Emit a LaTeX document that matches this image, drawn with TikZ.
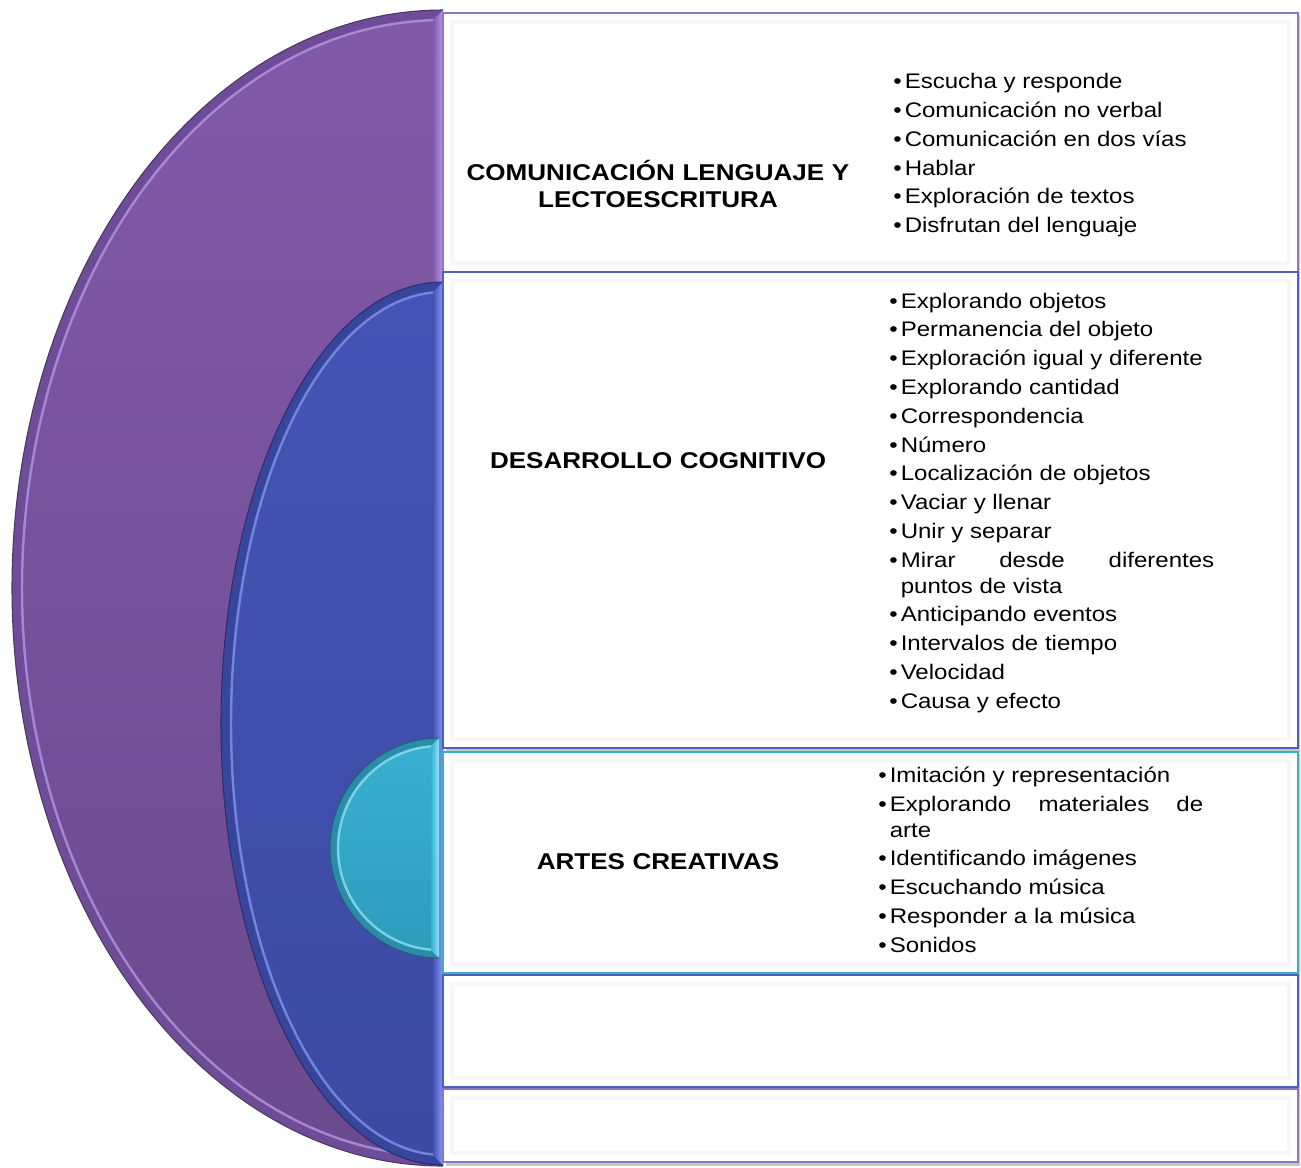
\documentclass[tikz,border=0pt]{standalone}
\usepackage{fontspec}
\setmainfont{Liberation Sans}
\newfontfamily\panelfont[FakeStretch=1.14]{Liberation Sans}
\usepackage{xcolor}
\usetikzlibrary{positioning}

\definecolor{purpdark}{HTML}{6E4C98}
\definecolor{purptop}{HTML}{8259AA}
\definecolor{purpbot}{HTML}{6A4A8E}
\definecolor{purplite}{HTML}{B89AEA}
\definecolor{purpline}{HTML}{8E74C8}
\definecolor{bludark}{HTML}{37459C}
\definecolor{blutop}{HTML}{4454B4}
\definecolor{blubot}{HTML}{3C4AA3}
\definecolor{blulite}{HTML}{8898F0}
\definecolor{bluline}{HTML}{4F5FBE}
\definecolor{cyadark}{HTML}{2A8CA8}
\definecolor{cyatop}{HTML}{38B0D0}
\definecolor{cyabot}{HTML}{2E9DBC}
\definecolor{cyalite}{HTML}{90E6F6}
\definecolor{cyaline}{HTML}{3BAFC9}

\newcommand\itm[1]{\par\hangindent=6.5pt\hangafter=1\noindent\makebox[6.5pt][l]{\textbullet}#1}

\begin{document}
\begin{tikzpicture}[
        x=0.02cm, y=0.02cm,
        title/.style={align=center, text width=8.4cm, inner sep=0pt, font=\panelfont\bfseries\fontsize{13}{15.9}\selectfont},
        items/.style={align=justify, text width=6.5cm, anchor=west, inner sep=0pt,
            font=\panelfont\fontsize{12}{14.7}\selectfont,
            execute at begin node=\setlength{\parskip}{1.7pt}},
        rim/.style={line width=0.6pt, draw=#1},
        glow/.style={draw=#1, line width=1.4pt, draw opacity=0.75}
    ]
        \useasboundingbox (0,0) rectangle (1301,-1167);

        % Domes
        \fill[purpdark] (443,-10) arc[start angle=90, end angle=270, x radius=431, y radius=578] -- cycle;
        \shade[top color=purptop, bottom color=purpbot] (443,-20) arc[start angle=90, end angle=270, x radius=421, y radius=568] -- cycle;
        \draw[glow=purplite] (443,-20) arc[start angle=90, end angle=270, x radius=421, y radius=568];
        \shade[left color=purptop, right color=purplite] (433,-20) -- (443,-10) -- (443,-1166) -- (433,-1156) -- cycle;
        \draw[rim=purpdark!70!black] (443,-10) arc[start angle=90, end angle=270, x radius=431, y radius=578];

        \fill[bludark] (443,-282) arc[start angle=90, end angle=270, x radius=222, y radius=441.5] -- cycle;
        \shade[top color=blutop, bottom color=blubot] (443,-292) arc[start angle=90, end angle=270, x radius=212, y radius=431.5] -- cycle;
        \draw[glow=blulite] (443,-292) arc[start angle=90, end angle=270, x radius=212, y radius=431.5];
        \shade[left color=blutop, right color=blulite] (433,-292) -- (443,-282) -- (443,-1165) -- (433,-1155) -- cycle;
        \draw[rim=bludark!70!black] (443,-282) arc[start angle=90, end angle=270, x radius=222, y radius=441.5];

        \fill[cyadark] (439,-738) arc[start angle=90, end angle=270, x radius=109, y radius=110] -- cycle;
        \shade[top color=cyatop, bottom color=cyabot] (439,-746) arc[start angle=90, end angle=270, x radius=101, y radius=102] -- cycle;
        \draw[glow=cyalite] (439,-746) arc[start angle=90, end angle=270, x radius=101, y radius=102];
        \shade[left color=cyatop, right color=cyalite] (431,-746) -- (439,-738) -- (439,-958) -- (431,-950) -- cycle;
        \draw[rim=cyadark!70!black] (439,-738) arc[start angle=90, end angle=270, x radius=109, y radius=110];

        % Panels
        \foreach \ya/\yb/\col in {13/272/purpline, 272/748/bluline, 752/973/cyaline, 975/1087/bluline, 1089/1162/purpline}{
            \fill[black!22] (446,-\ya-2) rectangle (1300,-\yb-4);
            \fill[white] (443,-\ya) rectangle (1298,-\yb);
            \draw[black!3, line width=2.5pt] (452,-\ya-9) rectangle (1289,-\yb+9);
            \draw[\col, line width=1.1pt] (443,-\ya) rectangle (1298,-\yb);
        }

        % Texts
        \node[title] (comm) at (658,-184) {COMUNICACIÓN LENGUAJE Y\\LECTOESCRITURA};
        \node[items] (commlist) at (893,-148.5) {%
            \itm{Escucha y responde}
            \itm{Comunicación no verbal}
            \itm{Comunicación en dos vías}
            \itm{Hablar}
            \itm{Exploración de textos}
            \itm{Disfrutan del lenguaje}};

        \node[title] (cogn) at (658,-461) {DESARROLLO COGNITIVO};
        \node[items] (cognlist) at (889,-496) {%
            \itm{Explorando objetos}
            \itm{Permanencia del objeto}
            \itm{Exploración igual y diferente}
            \itm{Explorando cantidad}
            \itm{Correspondencia}
            \itm{Número}
            \itm{Localización de objetos}
            \itm{Vaciar y llenar}
            \itm{Unir y separar}
            \itm{Mirar desde diferentes\linebreak puntos de vista}
            \itm{Anticipando eventos}
            \itm{Intervalos de tiempo}
            \itm{Velocidad}
            \itm{Causa y efecto}};

        \node[title] (arts) at (658,-862) {ARTES CREATIVAS};
        \node[items] (artslist) at (878,-853) {%
            \itm{Imitación y representación}
            \itm{Explorando materiales de\linebreak arte}
            \itm{Identificando imágenes}
            \itm{Escuchando música}
            \itm{Responder a la música}
            \itm{Sonidos}};
\end{tikzpicture}
\end{document}
